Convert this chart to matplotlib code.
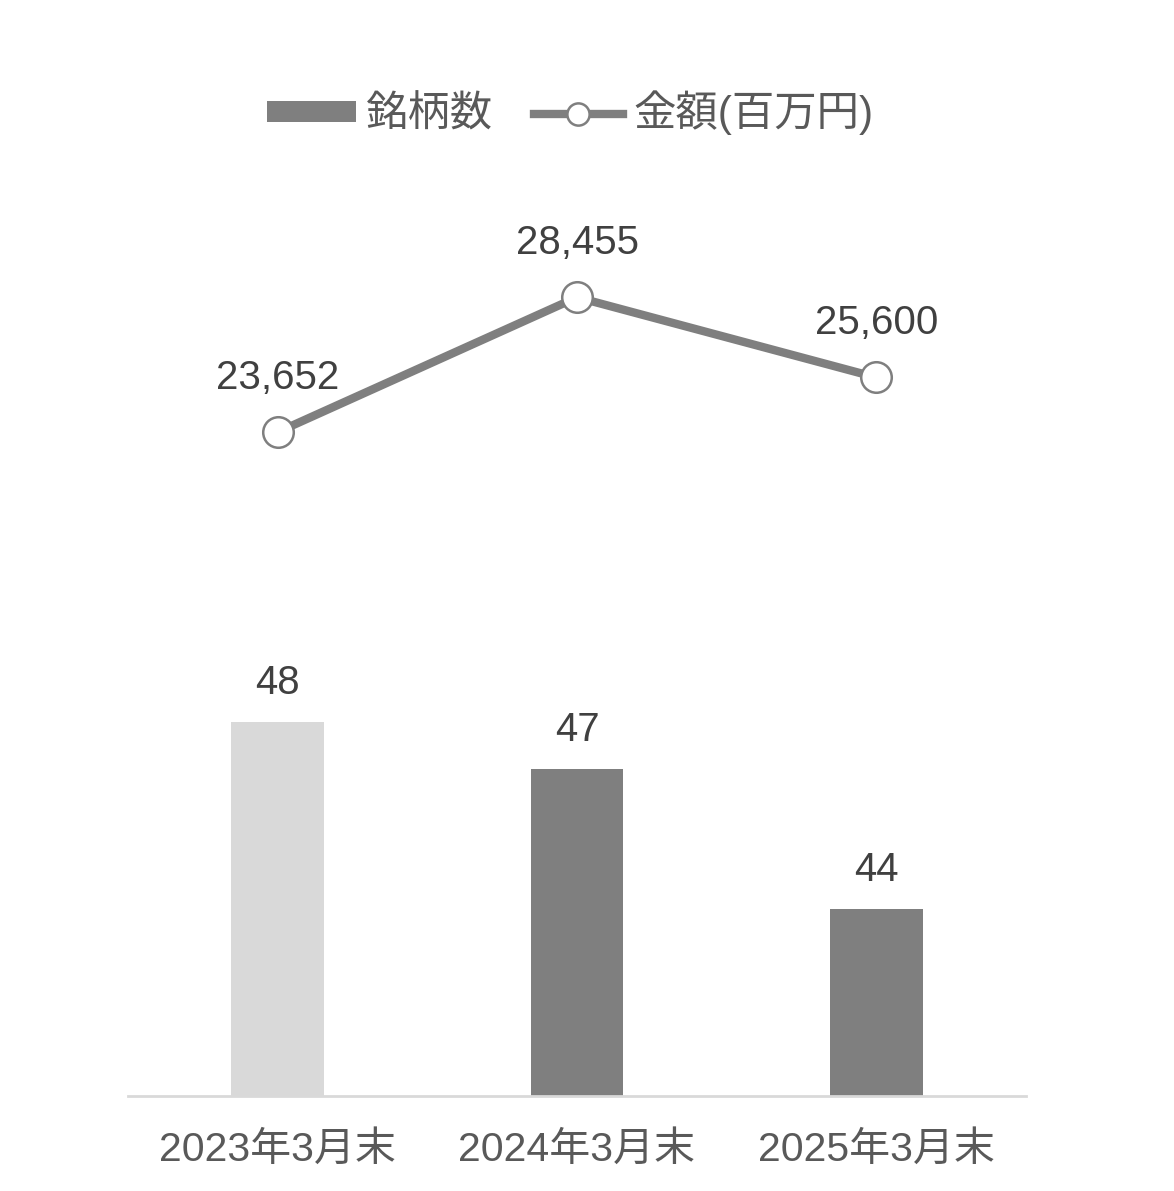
import matplotlib
matplotlib.use("Agg")
import matplotlib.pyplot as plt
from matplotlib.patches import Patch
from matplotlib.lines import Line2D

plt.rcParams['font.family'] = ['Liberation Sans', 'Noto Sans CJK JP', 'DejaVu Sans']

categories = ["2023年3月末", "2024年3月末", "2025年3月末"]
counts = [48, 47, 44]
amounts = [23652, 28455, 25600]
count_labels = ["48", "47", "44"]
amount_labels = ["23,652", "28,455", "25,600"]
series_names = ["銘柄数", "金額(百万円)"]

bar_colors = ["#d9d9d9", "#7f7f7f", "#7f7f7f"]
line_color = "#7f7f7f"
label_color = "#404040"
tick_color = "#595959"

W, H = 1174, 1191
fig = plt.figure(figsize=(W / 100, H / 100), dpi=100)
left, right, bottom_px, top_px = 128, 1026, 1096, 161
ax = fig.add_axes([left / W, (H - bottom_px) / H, (right - left) / W, (bottom_px - top_px) / H])
ax2 = ax.twinx()

x = list(range(len(categories)))
ax.bar(x, counts, width=0.31, color=bar_colors, zorder=2)
ax.set_xlim(-0.5, 2.5)
ax.set_ylim(40, 60)
ax2.set_ylim(0, 33310)

for xi, v, t in zip(x, counts, count_labels):
    ax.annotate(t, (xi, v), xytext=(0, 20), textcoords="offset points",
                ha="center", va="baseline", fontsize=29, color=label_color)

ax2.plot(x, amounts, color=line_color, lw=6, marker="o", markersize=22,
         markerfacecolor="white", markeredgecolor=line_color, markeredgewidth=1.8,
         zorder=3)
for xi, v, t in zip(x, amounts, amount_labels):
    ax2.annotate(t, (xi, v), xytext=(0, 31), textcoords="offset points",
                 ha="center", va="baseline", fontsize=29, color=label_color)

ax.set_xticks(x)
ax.set_xticklabels(categories, fontsize=29.5, color=tick_color)
ax.tick_params(axis="x", length=0, pad=25)
ax.set_yticks([])
ax2.set_yticks([])
for a in (ax, ax2):
    for s in ("top", "left", "right"):
        a.spines[s].set_visible(False)
    a.patch.set_visible(False)
ax2.spines["bottom"].set_visible(False)
ax.spines["bottom"].set_color("#d9d9d9")
ax.spines["bottom"].set_linewidth(2)

handles = [Patch(facecolor="#7f7f7f", edgecolor="none"),
           Line2D([], [], color=line_color, lw=6, marker="o", markersize=16,
                  markerfacecolor="white", markeredgecolor=line_color, markeredgewidth=1.8)]
fig.legend(handles, series_names, loc="center", bbox_to_anchor=(570 / W, 1 - 113 / H),
           ncol=2, frameon=False, fontsize=30.5, labelcolor=tick_color,
           handlelength=2.1, handleheight=0.38, handletextpad=0.25, columnspacing=0.95)

fig.savefig("out.png", dpi=100)
